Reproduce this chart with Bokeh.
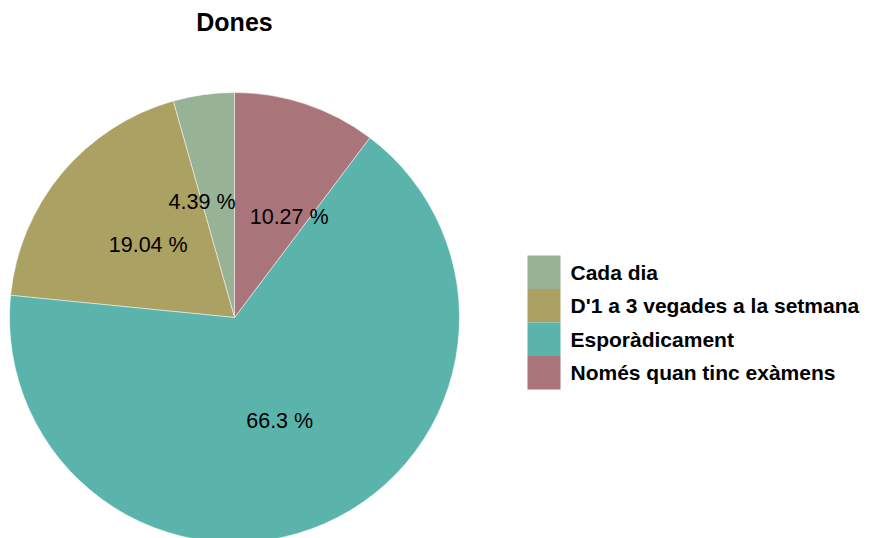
import math
from bokeh.plotting import figure
from bokeh.models import ColumnDataSource, Range1d
from bokeh.core.properties import value
from bokeh.embed import file_html
from bokeh.resources import INLINE

# ---- data ----
title_text = "Dones"
categories = ["Cada dia", "D'1 a 3 vegades a la setmana", "Esporàdicament", "Només quan tinc exàmens"]
percentages = [4.39, 19.04, 66.3, 10.27]
colors = ["#98B296", "#AAA162", "#5BB4AC", "#AA757A"]

# ---- layout (pixels) ----
W, H = 869, 538
cx, cy, R = 234, 538 - 317, 225
label_nudge_x = [-17, 0, 0, 19]
label_nudge_y = [4, 0, 0, -6]
FONT = "Liberation Sans"
LEG_X, LEG_TOP, LEG_BOX, LEG_ROW, LEG_GAP = 527, 538 - 255, 33, 33.5, 10

total = sum(percentages)
starts, ends, lx, ly, labels = [], [], [], [], []
cum = 0.0
for i, v in enumerate(percentages):
    a0 = math.pi / 2 + 2 * math.pi * cum / total
    cum += v
    a1 = math.pi / 2 + 2 * math.pi * cum / total
    starts.append(a0)
    ends.append(a1)
    mid = (a0 + a1) / 2
    lx.append(cx + 0.5 * R * math.cos(mid) + label_nudge_x[i])
    ly.append(cy + 0.5 * R * math.sin(mid) + label_nudge_y[i])
    labels.append(f"{v:g} %")

src = ColumnDataSource(dict(cat=categories, val=percentages, start=starts, end=ends,
                            color=colors, lx=lx, ly=ly, lab=labels))

# legend layout
n = len(categories)
leg = ColumnDataSource(dict(
    left=[LEG_X] * n,
    right=[LEG_X + LEG_BOX] * n,
    top=[LEG_TOP - i * LEG_ROW for i in range(n)],
    bottom=[LEG_TOP - (i + 1) * LEG_ROW for i in range(n)],
    tx=[LEG_X + LEG_BOX + LEG_GAP] * n,
    ty=[LEG_TOP - (i + 0.5) * LEG_ROW for i in range(n)],
    color=colors, cat=categories))

p = figure(width=W, height=H, x_range=Range1d(0, W), y_range=Range1d(0, H),
           output_backend="svg", toolbar_location=None, min_border=0)
p.axis.visible = False
p.grid.visible = False
p.outline_line_color = None
p.background_fill_color = "white"
p.border_fill_color = "white"

p.wedge(x=cx, y=cy, radius=R, start_angle="start", end_angle="end",
        direction="anticlock", fill_color="color", line_color="white",
        line_width=0.5, source=src)

p.text(x="lx", y="ly", text="lab", source=src, text_font=value(FONT),
       text_font_size="21.5px", text_align="center", text_baseline="middle",
       text_color="#000000")

p.text(x=[cx], y=[H - 21], text=[title_text], text_font=value(FONT),
       text_font_size="25px", text_font_style="bold", text_align="center",
       text_baseline="middle", text_color="#000000")

p.quad(left="left", right="right", top="top", bottom="bottom", fill_color="color",
       line_color=None, source=leg)
p.text(x="tx", y="ty", text="cat", source=leg, text_font=value(FONT),
       text_font_size="21px", text_font_style="bold", text_align="left",
       text_baseline="middle", text_color="#000000")

open("out.html", "w").write(file_html(p, INLINE))
